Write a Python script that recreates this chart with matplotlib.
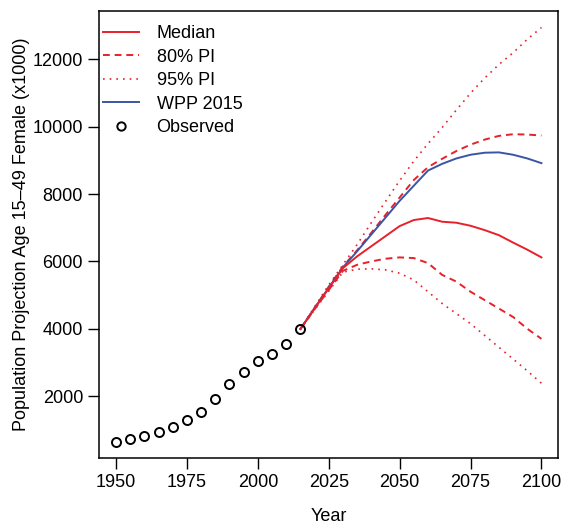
import matplotlib
matplotlib.use("Agg")
import matplotlib.pyplot as plt
from matplotlib.lines import Line2D

plt.rcParams['font.family'] = ['Liberation Sans', 'DejaVu Sans']

obs_years = [1950, 1955, 1960, 1965, 1970, 1975, 1980, 1985, 1990, 1995, 2000, 2005, 2010, 2015]
obs_pop = [633, 712, 820, 920, 1079, 1287, 1525, 1911, 2366, 2722, 3040, 3248, 3545, 3991]

proj_years = [2015, 2020, 2025, 2030, 2035, 2040, 2045, 2050, 2055, 2060, 2065, 2070,
              2075, 2080, 2085, 2090, 2095, 2100]
median = [3991, 4600, 5200, 5800, 6150, 6450, 6750, 7050, 7230, 7290, 7180, 7150,
          7060, 6930, 6780, 6560, 6350, 6120]
pi80_up = [3991, 4620, 5250, 5850, 6330, 6850, 7380, 7900, 8420, 8800, 9050, 9280,
           9470, 9620, 9730, 9780, 9770, 9740]
pi80_lo = [3991, 4580, 5150, 5720, 5900, 6000, 6080, 6120, 6100, 5950, 5600, 5400,
           5100, 4850, 4600, 4350, 4000, 3700]
pi95_up = [3991, 4650, 5300, 5900, 6500, 7150, 7780, 8400, 8980, 9500, 9980, 10500,
           11000, 11450, 11850, 12200, 12600, 12950]
pi95_lo = [3991, 4560, 5120, 5680, 5770, 5780, 5750, 5650, 5450, 5100, 4750, 4450,
           4150, 3800, 3450, 3100, 2750, 2380]
wpp2015 = [3991, 4610, 5220, 5820, 6300, 6800, 7300, 7800, 8250, 8700, 8900, 9060,
           9170, 9230, 9240, 9170, 9060, 8920]

red = '#e8202a'
blue = '#3a55a4'
dash = (0, (3.5, 2.5))
dot = (0, (1, 3))

fig = plt.figure(figsize=(5.64, 5.29), dpi=100)
ax = fig.add_axes([0.1755, 0.1336, 0.8147, 0.8462])

ax.plot(proj_years, pi95_up, color=red, lw=1.2, ls=dot)
ax.plot(proj_years, pi95_lo, color=red, lw=1.2, ls=dot)
ax.plot(proj_years, pi80_up, color=red, lw=1.4, ls=dash)
ax.plot(proj_years, pi80_lo, color=red, lw=1.4, ls=dash)
ax.plot(proj_years, wpp2015, color=blue, lw=1.4)
ax.plot(proj_years, median, color=red, lw=1.4)
ax.plot(obs_years, obs_pop, ls='none', marker='o', ms=6.5, mfc='none', mec='black', mew=1.4)

ax.set_xlim(1944, 2106)
ax.set_ylim(150, 13450)
ax.set_xticks([1950, 1975, 2000, 2025, 2050, 2075, 2100])
ax.set_yticks([2000, 4000, 6000, 8000, 10000, 12000])
ax.tick_params(direction='out', length=8, width=1, labelsize=13, pad=3.5)
for s in ax.spines.values():
    s.set_linewidth(1.1)

ax.set_xlabel('Year', fontsize=13, labelpad=12)
ax.set_ylabel('Population Projection Age 15\u201349 Female (x1000)', fontsize=13, labelpad=2)

handles = [
    Line2D([], [], color=red, lw=1.4),
    Line2D([], [], color=red, lw=1.4, ls=dash),
    Line2D([], [], color=red, lw=1.2, ls=dot),
    Line2D([], [], color=blue, lw=1.4),
    Line2D([], [], ls='none', marker='o', ms=6, mfc='none', mec='black', mew=1.4),
]
labels = ['Median', '80% PI', '95% PI', 'WPP 2015', 'Observed']
ax.legend(handles, labels, loc='upper left', bbox_to_anchor=(0, 0.977), frameon=False,
          fontsize=13, handlelength=2.0, handletextpad=0.95, labelspacing=0.36,
          borderpad=0.24, borderaxespad=0)

fig.savefig('out.png', dpi=100)
